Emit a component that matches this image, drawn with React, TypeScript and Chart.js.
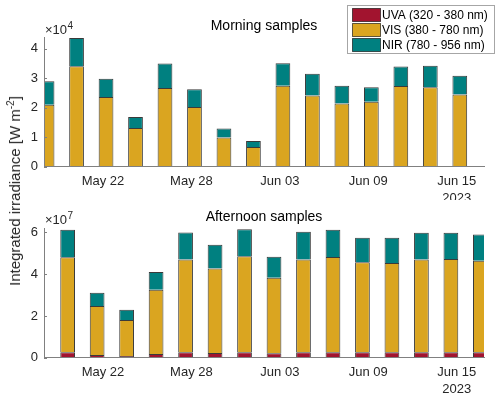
import React, { useEffect, useRef } from 'react';
import { Chart, registerables } from 'chart.js';

Chart.register(...registerables);

// ---------- data ----------
const seriesLabels = ['UVA (320 - 380 nm)', 'VIS (380 - 780 nm)', 'NIR (780 - 956 nm)'];
const seriesColors = ['#A2142F', '#DAA520', '#008080'];

// sample times
const morningTimes = [
  '2023-05-18T05:00', '2023-05-20T05:00', '2023-05-22T05:00', '2023-05-24T05:00', '2023-05-26T05:00',
  '2023-05-28T05:00', '2023-05-30T05:00', '2023-06-01T05:00', '2023-06-03T05:00', '2023-06-05T05:00',
  '2023-06-07T05:00', '2023-06-09T05:00', '2023-06-11T05:00', '2023-06-13T05:00', '2023-06-15T05:00',
];
const afternoonTimes = [
  '2023-05-19T14:30', '2023-05-21T14:30', '2023-05-23T14:30', '2023-05-25T14:30', '2023-05-27T14:30',
  '2023-05-29T14:30', '2023-05-31T14:30', '2023-06-02T14:30', '2023-06-04T14:30', '2023-06-06T14:30',
  '2023-06-08T14:30', '2023-06-10T14:30', '2023-06-12T14:30', '2023-06-14T14:30', '2023-06-16T14:30',
];

// Morning, units of 1e4 W m^-2
const morningUVA = [0.01, 0.01, 0.01, 0.01, 0.01, 0.01, 0.01, 0.01, 0.01, 0.01, 0.01, 0.01, 0.01, 0.01, 0.01];
const morningVIS = [2.09, 3.39, 2.35, 1.30, 2.65, 2.01, 0.98, 0.66, 2.73, 2.40, 2.13, 2.19, 2.72, 2.68, 2.43];
const morningNIR = [0.79, 0.96, 0.62, 0.37, 0.83, 0.60, 0.30, 0.20, 0.76, 0.74, 0.60, 0.49, 0.66, 0.73, 0.64];

// Afternoon, units of 1e7 W m^-2
const afternoonUVA = [0.26, 0.13, 0.08, 0.18, 0.26, 0.22, 0.26, 0.21, 0.26, 0.26, 0.26, 0.26, 0.26, 0.26, 0.26];
const afternoonVIS = [4.55, 2.35, 1.73, 3.08, 4.44, 4.05, 4.60, 3.62, 4.45, 4.57, 4.31, 4.28, 4.45, 4.47, 4.38];
const afternoonNIR = [1.32, 0.63, 0.49, 0.85, 1.30, 1.14, 1.30, 1.01, 1.32, 1.30, 1.18, 1.21, 1.28, 1.26, 1.26];

const xTickDates = ['2023-05-22', '2023-05-28', '2023-06-03', '2023-06-09', '2023-06-15'];
const xRange = ['2023-05-18T00:00', '2023-06-16T20:24'];
const morningYTicks = [0, 1, 2, 3, 4];
const afternoonYTicks = [0, 2, 4, 6];
const morningYMax = 4.38;
const afternoonYMax = 6.2;

// ---------- helpers ----------
const EPOCH = Date.UTC(2023, 4, 0);
const DAY = 86400000;
const toDay = (s: string) => (Date.parse((s.length === 10 ? s + 'T00:00' : s) + ':00Z') - EPOCH) / DAY;
const MONTHS = ['Jan', 'Feb', 'Mar', 'Apr', 'May', 'Jun', 'Jul', 'Aug', 'Sep', 'Oct', 'Nov', 'Dec'];
const FONT = "'Liberation Sans', Arial, Helvetica, sans-serif";
const TEXT = '#262626';
const AXIS = '#808080';

const xTickDays = xTickDates.map(toDay);
const fmtDay = (d: number, isLast: boolean) => {
  const dt = new Date(EPOCH + Math.round(d) * DAY);
  const s = MONTHS[dt.getUTCMonth()] + ' ' + String(dt.getUTCDate()).padStart(2, '0');
  return isLast ? [s, String(dt.getUTCFullYear())] : s;
};

type PanelProps = {
  times: string[];
  series: number[][];
  yTicks: number[];
  yMax: number;
  exponent: string;
  title: string;
  canvasH: number;
  plotTop: number;
  plotBottom: number;
  showLegend: boolean;
  titleY: number;
  expBaseline: number;
};

function Panel(p: PanelProps) {
  const ref = useRef<HTMLCanvasElement | null>(null);
  useEffect(() => {
    if (!ref.current) return;
    const decor = {
      id: 'decor',
      afterDraw(chart: any) {
        const ctx = chart.ctx;
        const area = chart.chartArea;
        const y = chart.scales.y;
        ctx.save();
        // inward y ticks
        ctx.strokeStyle = AXIS;
        ctx.lineWidth = 1;
        p.yTicks.forEach((v) => {
          const py = Math.round(y.getPixelForValue(v)) + 0.5;
          ctx.beginPath();
          ctx.moveTo(area.left, py);
          ctx.lineTo(area.left + 3, py);
          ctx.stroke();
        });
        // title
        ctx.fillStyle = '#000';
        ctx.font = `14px ${FONT}`;
        ctx.textAlign = 'center';
        ctx.textBaseline = 'middle';
        ctx.fillText(p.title, (area.left + area.right) / 2, p.titleY);
        // exponent label
        ctx.fillStyle = TEXT;
        ctx.textAlign = 'left';
        ctx.textBaseline = 'alphabetic';
        ctx.font = `13px ${FONT}`;
        const base = '\u00D710';
        ctx.fillText(base, area.left + 1, p.expBaseline);
        const w = ctx.measureText(base).width;
        ctx.font = `10px ${FONT}`;
        ctx.fillText(p.exponent, area.left + 1 + w + 0.5, p.expBaseline - 4.5);
        // legend
        if (p.showLegend) {
          const bx = 347.5, by = 5.5, bw = 147, bh = 48;
          ctx.fillStyle = '#fff';
          ctx.fillRect(bx, by, bw, bh);
          ctx.strokeStyle = '#a6a6a6';
          ctx.strokeRect(bx, by, bw, bh);
          ctx.font = `12px ${FONT}`;
          ctx.textBaseline = 'middle';
          chart.data.datasets.forEach((ds: any, i: number) => {
            const cy = 15 + i * 15;
            ctx.fillStyle = ds.backgroundColor;
            ctx.fillRect(352.5, cy - 6.5, 28, 13);
            ctx.strokeStyle = 'rgba(0,0,0,0.6)';
            ctx.strokeRect(352.5, cy - 6.5, 28, 13);
            ctx.fillStyle = '#000';
            ctx.fillText(ds.label, 382, cy + 0.5);
          });
        }
        ctx.restore();
      },
    };

    const xs = p.times.map(toDay);
    const chart = new Chart(ref.current, {
      type: 'bar',
      data: {
        datasets: p.series.map((vals, si) => ({
          label: seriesLabels[si],
          data: vals.map((v, i) => ({ x: xs[i], y: v })),
          backgroundColor: seriesColors[si],
          borderColor: '#3a3a3a',
          borderWidth: 1,
          borderSkipped: 'start',
          categoryPercentage: 0.5,
          barPercentage: 1,
        })),
      },
      options: {
        responsive: false,
        animation: false,
        events: [],
        layout: { padding: { left: 0, right: 16, top: p.plotTop, bottom: 0 } },
        plugins: { legend: { display: false }, tooltip: { enabled: false }, title: { display: false } },
        scales: {
          x: {
            type: 'linear',
            stacked: true,
            offset: false,
            min: toDay(xRange[0]),
            max: toDay(xRange[1]),
            grid: { display: false, drawTicks: false },
            border: { display: true, color: AXIS, width: 1, z: 1 },
            ticks: {
              padding: 6,
              color: TEXT,
              font: { family: FONT, size: 13, lineHeight: 1.3 },
              maxRotation: 0,
              autoSkip: false,
              callback: (v: any, i: number, arr: any[]) => fmtDay(Number(v), i === arr.length - 1),
            },
            afterBuildTicks: (s: any) => {
              s.ticks = xTickDays.map((v) => ({ value: v }));
            },
            afterFit: (s: any) => {
              s.height = p.canvasH - p.plotBottom;
            },
          },
          y: {
            stacked: true,
            min: 0,
            max: p.yMax,
            grid: { display: false, drawTicks: false },
            border: { display: true, color: AXIS, width: 1, z: 1 },
            ticks: {
              padding: 6,
              color: TEXT,
              font: { family: FONT, size: 13 },
              callback: (v: any) => String(v),
            },
            afterBuildTicks: (s: any) => {
              s.ticks = p.yTicks.map((v) => ({ value: v }));
            },
            afterFit: (s: any) => {
              s.width = 44;
            },
          },
        },
      } as any,
      plugins: [decor],
    });
    return () => chart.destroy();
  }, []);
  return <canvas ref={ref} width={500} height={p.canvasH} style={{ display: 'block', width: 500, height: p.canvasH }} />;
}

export default function App() {
  return (
    <div style={{ position: 'absolute', left: 0, top: 0, width: 500, height: 401, background: '#fff', overflow: 'hidden' }}>
      <div style={{ position: 'absolute', left: 0, top: 0 }}>
        <Panel
          times={morningTimes}
          series={[morningUVA, morningVIS, morningNIR]}
          yTicks={morningYTicks}
          yMax={morningYMax}
          exponent="4"
          title="Morning samples"
          canvasH={200}
          plotTop={37.3}
          plotBottom={166.7}
          showLegend={true}
          titleY={26}
          expBaseline={33.5}
        />
      </div>
      <div style={{ position: 'absolute', left: 0, top: 200 }}>
        <Panel
          times={afternoonTimes}
          series={[afternoonUVA, afternoonVIS, afternoonNIR]}
          yTicks={afternoonYTicks}
          yMax={afternoonYMax}
          exponent="7"
          title="Afternoon samples"
          canvasH={201}
          plotTop={28.3}
          plotBottom={157.7}
          showLegend={false}
          titleY={17.5}
          expBaseline={23.5}
        />
      </div>
      <div
        style={{
          position: 'absolute',
          left: 15,
          top: 191,
          transform: 'translate(-50%, -50%) rotate(-90deg)',
          whiteSpace: 'nowrap',
          fontFamily: FONT,
          fontSize: 15,
          lineHeight: '18px',
          color: TEXT,
        }}
      >
        Integrated irradiance [W m<sup style={{ fontSize: 10, lineHeight: 0, verticalAlign: 'super' }}>-2</sup>]
      </div>
    </div>
  );
}
